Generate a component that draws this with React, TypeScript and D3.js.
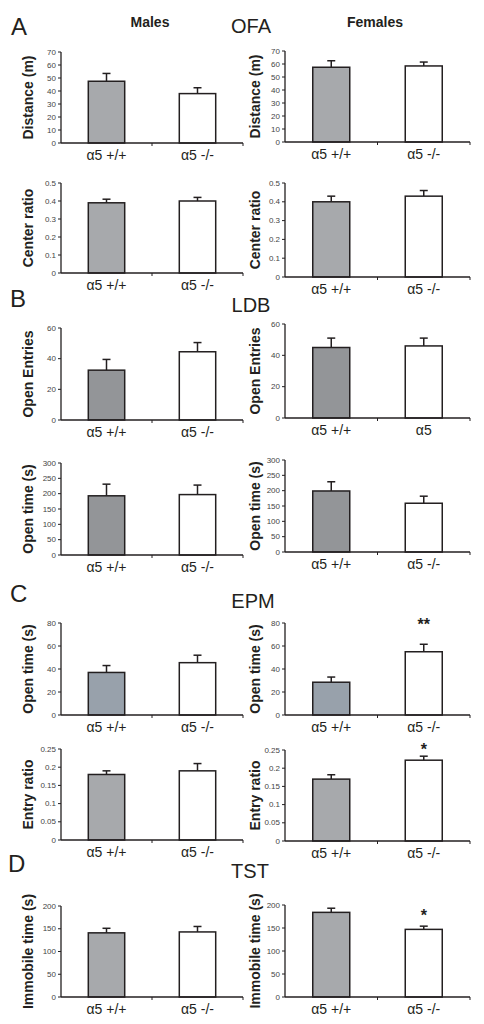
import React from "react";
import * as d3 from "d3";

// ---------- data ----------
const groups = ["α5 +/+", "α5 -/-"];
const groupsLdbFemaleLabels = ["α5 +/+", "α5"];

const distanceMales = [47.5, 38];
const distanceMalesErr = [6, 4.5];
const distanceFemales = [57.5, 58.5];
const distanceFemalesErr = [5, 3];
const distanceTicks = [0, 10, 20, 30, 40, 50, 60, 70];

const centerMales = [0.39, 0.4];
const centerMalesErr = [0.02, 0.02];
const centerFemales = [0.4, 0.43];
const centerFemalesErr = [0.03, 0.03];
const centerTicks = [0, 0.1, 0.2, 0.3, 0.4, 0.5];

const entriesMales = [32.5, 44.5];
const entriesMalesErr = [7, 6];
const entriesFemales = [45, 46];
const entriesFemalesErr = [6, 5];
const entriesTicks = [0, 20, 40, 60];

const ldbTimeMales = [193, 197];
const ldbTimeMalesErr = [38, 31];
const ldbTimeFemales = [199, 159];
const ldbTimeFemalesErr = [30, 23];
const ldbTimeTicks = [0, 50, 100, 150, 200, 250, 300];

const epmTimeMales = [37, 45.5];
const epmTimeMalesErr = [6, 6.5];
const epmTimeFemales = [28.5, 55];
const epmTimeFemalesErr = [4.5, 6.5];
const epmTimeTicks = [0, 20, 40, 60, 80];

const entryRatioMales = [0.18, 0.19];
const entryRatioMalesErr = [0.01, 0.02];
const entryRatioFemales = [0.17, 0.222];
const entryRatioFemalesErr = [0.012, 0.011];
const entryRatioTicks = [0, 0.05, 0.1, 0.15, 0.2, 0.25];

const immobileMales = [141, 143];
const immobileMalesErr = [10, 12];
const immobileFemales = [184, 147];
const immobileFemalesErr = [9, 7];
const immobileTicks = [0, 50, 100, 150, 200];

const femaleStarsEpmTime = ["", "**"];
const femaleStarsEntryRatio = ["", "*"];
const femaleStarsImmobile = ["", "*"];

type PanelDef = {
  ylabel: string;
  ticks: number[];
  values: number[];
  errs: number[];
  labels: string[];
  stars?: string[];
};

type RowDef = {
  fill: string;
  males: PanelDef;
  females: PanelDef;
};

const rows: RowDef[] = [
  {
    fill: "#a7a9ac",
    males: { ylabel: "Distance (m)", ticks: distanceTicks, values: distanceMales, errs: distanceMalesErr, labels: groups },
    females: { ylabel: "Distance (m)", ticks: distanceTicks, values: distanceFemales, errs: distanceFemalesErr, labels: groups },
  },
  {
    fill: "#a7a9ac",
    males: { ylabel: "Center ratio", ticks: centerTicks, values: centerMales, errs: centerMalesErr, labels: groups },
    females: { ylabel: "Center ratio", ticks: centerTicks, values: centerFemales, errs: centerFemalesErr, labels: groups },
  },
  {
    fill: "#939598",
    males: { ylabel: "Open Entries", ticks: entriesTicks, values: entriesMales, errs: entriesMalesErr, labels: groups },
    females: { ylabel: "Open Entries", ticks: entriesTicks, values: entriesFemales, errs: entriesFemalesErr, labels: groupsLdbFemaleLabels },
  },
  {
    fill: "#939598",
    males: { ylabel: "Open time (s)", ticks: ldbTimeTicks, values: ldbTimeMales, errs: ldbTimeMalesErr, labels: groups },
    females: { ylabel: "Open time (s)", ticks: ldbTimeTicks, values: ldbTimeFemales, errs: ldbTimeFemalesErr, labels: groups },
  },
  {
    fill: "#98a1ab",
    males: { ylabel: "Open time (s)", ticks: epmTimeTicks, values: epmTimeMales, errs: epmTimeMalesErr, labels: groups },
    females: { ylabel: "Open time (s)", ticks: epmTimeTicks, values: epmTimeFemales, errs: epmTimeFemalesErr, labels: groups, stars: femaleStarsEpmTime },
  },
  {
    fill: "#a7a9ac",
    males: { ylabel: "Entry ratio", ticks: entryRatioTicks, values: entryRatioMales, errs: entryRatioMalesErr, labels: groups },
    females: { ylabel: "Entry ratio", ticks: entryRatioTicks, values: entryRatioFemales, errs: entryRatioFemalesErr, labels: groups, stars: femaleStarsEntryRatio },
  },
  {
    fill: "#a7a9ac",
    males: { ylabel: "Immobile time (s)", ticks: immobileTicks, values: immobileMales, errs: immobileMalesErr, labels: groups },
    females: { ylabel: "Immobile time (s)", ticks: immobileTicks, values: immobileFemales, errs: immobileFemalesErr, labels: groups, stars: femaleStarsImmobile },
  },
];

// ---------- layout ----------
const W = 484;
const H = 1024;
const FONT = "'Liberation Sans', Arial, sans-serif";
const INK = "#231f20";

// [top, bottom] of each plot, left (males) and right (females); star gap above error cap
const rowY: { left: [number, number]; right: [number, number]; starGap: number }[] = [
  { left: [52, 143], right: [51, 142], starGap: 0 },
  { left: [183, 273], right: [183, 277], starGap: 0 },
  { left: [328, 420], right: [324, 418], starGap: 0 },
  { left: [463, 555], right: [460, 552], starGap: 0 },
  { left: [623, 715], right: [623, 715], starGap: 14 },
  { left: [749, 840], right: [750, 841], starGap: 1 },
  { left: [906, 997], right: [905, 997], starGap: 5 },
];
const colX = { left: [61, 243] as [number, number], right: [285, 470] as [number, number] };
const ylabelX = { left: 28, right: 255 };

function Panel({ def, fill, x0x1, y0y1, ylx, starGap }: { def: PanelDef; fill: string; x0x1: [number, number]; y0y1: [number, number]; ylx: number; starGap: number }) {
  const [top, bottom] = y0y1;
  const max = def.ticks[def.ticks.length - 1];
  const y = d3.scaleLinear().domain([0, max]).range([bottom, top]);
  const x = d3.scaleBand<string>().domain(["0", "1"]).range(x0x1).paddingInner(0.6).paddingOuter(0.3);
  const mid = (x0x1[0] + x0x1[1]) / 2;
  const bw = x.bandwidth();
  return (
    <g>
      <line x1={x0x1[0]} x2={x0x1[0]} y1={top} y2={bottom} stroke={INK} strokeWidth={1.3} />
      {def.ticks.map((t) => (
        <g key={t}>
          <line x1={x0x1[0] - 3} x2={x0x1[0]} y1={y(t)} y2={y(t)} stroke={INK} strokeWidth={1} />
          <text x={x0x1[0] - 5} y={y(t)} dy="0.33em" textAnchor="end" fontSize={8} fill="#444" fontFamily={FONT}>
            {String(+t.toFixed(2))}
          </text>
        </g>
      ))}
      {def.values.map((v, i) => {
        const bx = x(String(i))!;
        const cx = bx + bw / 2;
        const yt = y(v);
        const ye = y(v + def.errs[i]);
        return (
          <g key={i}>
            <line x1={cx} x2={cx} y1={yt} y2={ye} stroke={INK} strokeWidth={1.5} />
            <line x1={cx - 4} x2={cx + 4} y1={ye} y2={ye} stroke={INK} strokeWidth={1.5} />
            <rect x={bx} y={yt} width={bw} height={bottom - yt} fill={i === 0 ? fill : "#ffffff"} stroke={INK} strokeWidth={1.5} />
            {def.stars && def.stars[i] ? (
              <text x={cx} y={ye - starGap} textAnchor="middle" fontSize={16} fontWeight="bold" fill={INK} fontFamily={FONT}>
                {def.stars[i]}
              </text>
            ) : null}
            <text x={cx} y={bottom + 17} textAnchor="middle" fontSize={14} fill={INK} fontFamily={FONT}>
              {def.labels[i]}
            </text>
          </g>
        );
      })}
      <line x1={x0x1[0]} x2={x0x1[1]} y1={bottom} y2={bottom} stroke={INK} strokeWidth={1.5} />
      <line x1={mid} x2={mid} y1={bottom} y2={bottom + 3} stroke={INK} strokeWidth={1} />
      <line x1={x0x1[1]} x2={x0x1[1]} y1={bottom} y2={bottom + 3} stroke={INK} strokeWidth={1} />
      <text
        transform={`translate(${ylx},${(top + bottom) / 2}) rotate(-90)`}
        textAnchor="middle"
        dy="0.35em"
        fontSize={14}
        fontWeight="bold"
        fill={INK}
        fontFamily={FONT}
      >
        {def.ylabel}
      </text>
    </g>
  );
}

const sectionLetters = [
  { t: "A", x: 11, y: 35 },
  { t: "B", x: 10, y: 307 },
  { t: "C", x: 10, y: 602 },
  { t: "D", x: 8, y: 872 },
];
const sectionTitles = [
  { t: "OFA", x: 251, y: 33 },
  { t: "LDB", x: 251, y: 312 },
  { t: "EPM", x: 253, y: 608 },
  { t: "TST", x: 250, y: 878 },
];

export default function App() {
  return (
    <svg width={W} height={H} style={{ position: "absolute", left: 0, top: 0 }}>
      <rect width={W} height={H} fill="#ffffff" />
      <text x={150} y={27} textAnchor="middle" fontSize={14} fontWeight="bold" fill={INK} fontFamily={FONT}>Males</text>
      <text x={375} y={27} textAnchor="middle" fontSize={14} fontWeight="bold" fill={INK} fontFamily={FONT}>Females</text>
      {sectionLetters.map((s) => (
        <text key={s.t} x={s.x} y={s.y} fontSize={24} fill={INK} fontFamily={FONT}>{s.t}</text>
      ))}
      {sectionTitles.map((s) => (
        <text key={s.t} x={s.x} y={s.y} textAnchor="middle" fontSize={20} fill={INK} fontFamily={FONT}>{s.t}</text>
      ))}
      {rows.map((r, i) => (
        <g key={i}>
          <Panel def={r.males} fill={r.fill} x0x1={colX.left} y0y1={rowY[i].left} ylx={ylabelX.left} starGap={rowY[i].starGap} />
          <Panel def={r.females} fill={r.fill} x0x1={colX.right} y0y1={rowY[i].right} ylx={ylabelX.right} starGap={rowY[i].starGap} />
        </g>
      ))}
    </svg>
  );
}
